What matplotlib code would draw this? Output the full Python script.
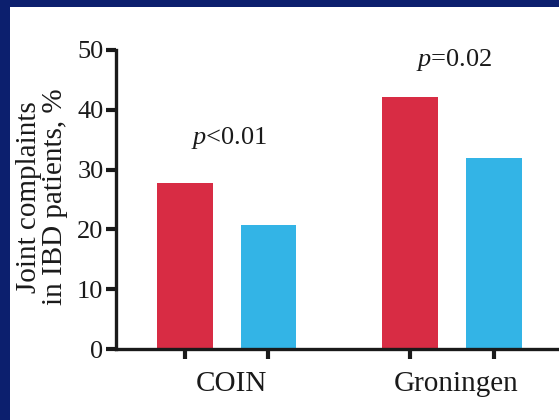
import matplotlib
matplotlib.use("Agg")
import matplotlib.pyplot as plt
from matplotlib.patches import Rectangle

# data
groups = ["COIN", "Groningen"]
red_values = [27.7, 42.2]
blue_values = [20.8, 32.0]
p_labels = ["<0.01", "=0.02"]
p_heights = [35.3, 48.3]
y_ticks = [0, 10, 20, 30, 40, 50]

navy = "#0c1f6e"
red = "#d82c44"
blue = "#33b4e6"
ink = "#1a1a1a"

plt.rcParams["font.family"] = ["Liberation Serif", "DejaVu Serif"]
plt.rcParams["mathtext.fontset"] = "custom"
plt.rcParams["mathtext.it"] = "Liberation Serif:italic"
plt.rcParams["mathtext.rm"] = "Liberation Serif"

fig = plt.figure(figsize=(5.59, 4.2), dpi=100, facecolor=navy)
W, H = 559, 420
# white panel inside the navy frame (left and top edges only)
fig.patches.append(Rectangle((10 / W, 0), 1 - 10 / W, 1 - 7 / H,
                             transform=fig.transFigure, facecolor="white",
                             edgecolor="none", zorder=-5))

ax = fig.add_axes([116 / W, 1 - 349 / H, 1 - 116 / W, (349 - 50) / H])
ax.set_facecolor("none")
ax.set_zorder(2)

offset = 0.186
width = 0.248
centers = list(range(len(groups)))
red_x = [c - offset for c in centers]
blue_x = [c + offset for c in centers]
ax.bar(red_x, red_values, width=width, color=red, zorder=2)
ax.bar(blue_x, blue_values, width=width, color=blue, zorder=2)

for c, lab, h in zip(centers, p_labels, p_heights):
    ax.text(c + 0.01, h, r"$p$" + lab, ha="center", va="center",
            fontsize=19, color=ink)

ax.set_xlim(-0.49, 1.474)
ax.set_ylim(0, 50)
ax.set_yticks(y_ticks)
ax.set_yticklabels([str(t) for t in y_ticks], fontsize=19, color=ink)
ax.set_xticks(red_x + blue_x)
ax.set_xticklabels([])
ax.set_xticks([c + 0.02 for c in centers], minor=True)
ax.set_xticklabels(groups, minor=True, fontsize=21, color=ink)
ax.tick_params(axis="x", which="minor", length=0, pad=16)
ax.tick_params(axis="x", which="major", length=7, width=3, color=ink, direction="out")
ax.tick_params(axis="y", length=7, width=3, color=ink, pad=2)

for side in ("top", "right"):
    ax.spines[side].set_visible(False)
for side in ("left", "bottom"):
    ax.spines[side].set_linewidth(2.4)
    ax.spines[side].set_color(ink)
    ax.spines[side].set_zorder(3)

fig.text(42 / W, 1 - 197 / H, "Joint complaints\nin IBD patients, %",
         rotation=90, ha="center", va="center", fontsize=21, color=ink,
         linespacing=1.05, zorder=3)

fig.savefig("out.png", dpi=100, facecolor=navy)
